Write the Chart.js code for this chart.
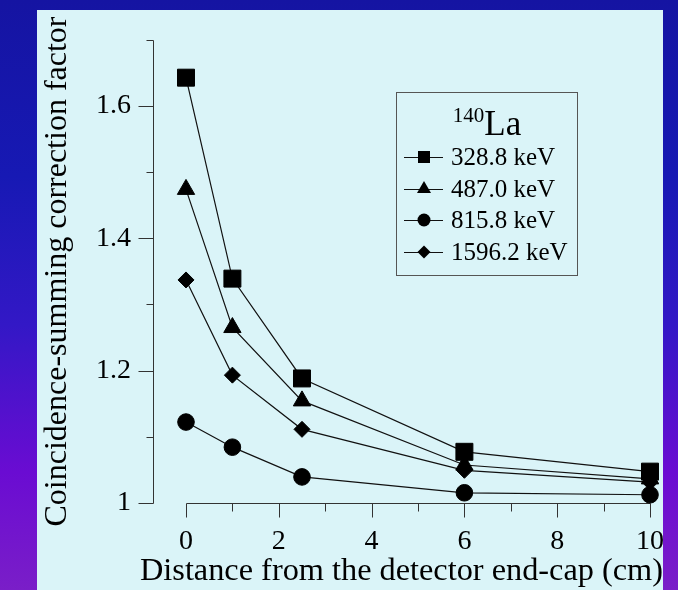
<!DOCTYPE html>
<html><head><meta charset="utf-8">
<script src="https://cdn.jsdelivr.net/npm/chart.js@4.4.1/dist/chart.umd.min.js"></script>
<style>
html,body{margin:0;padding:0;width:678px;height:590px;overflow:hidden;}
body{position:relative;background:linear-gradient(to bottom,#1514a2 0%,#1719b4 30%,#3318c6 55%,#6a0cd2 80%,#7a1ec8 100%);font-family:'Liberation Serif','Times New Roman',serif;}
#panel{position:absolute;left:37px;top:10px;width:626px;height:580px;background:#daf4f8;}
#c{position:absolute;left:0;top:0;}
#legend{position:absolute;left:396px;top:92px;width:182px;height:184px;border:1px solid #555;box-sizing:border-box;color:#000;}
#legend .lt{position:absolute;left:0;top:11px;width:100%;height:40px;line-height:40px;text-align:center;white-space:nowrap;font-size:35px;}
#legend .lt .sup{position:relative;top:-13px;font-size:21px;}
#legend .row{position:absolute;left:0;height:30px;line-height:30px;width:100%;font-size:25px;white-space:nowrap;}
#legend .row svg{position:absolute;left:7px;top:0;}
#legend .row span{position:absolute;left:54px;top:0;}
</style></head>
<body>
<div id="panel"></div>
<canvas id="c" width="678" height="590"></canvas>
<div id="legend"></div>
<script>
// ---- data ----
const distances = [0, 1, 2.5, 6, 10];
const seriesLabels = ['328.8 keV', '487.0 keV', '815.8 keV', '1596.2 keV'];
const s328 = [1.643, 1.339, 1.188, 1.077, 1.047];
const s487 = [1.474, 1.265, 1.154, 1.057, 1.036];
const s815 = [1.122, 1.084, 1.039, 1.015, 1.012];
const s1596 = [1.337, 1.193, 1.111, 1.049, 1.031];
const xMajorTicks = [0, 2, 4, 6, 8, 10];
const xMinorTicks = [1, 3, 5, 7, 9];
const xTickLabels = ['0', '2', '4', '6', '8', '10'];
const yMajorTicks = [1, 1.2, 1.4, 1.6];
const yMinorTicks = [1.1, 1.3, 1.5, 1.7];
const yTickLabels = ['1', '1.2', '1.4', '1.6'];
const legendTitleSup = '140';
const legendTitleMain = 'La';
const xTitle = 'Distance from the detector end-cap (cm)';
const yTitle = 'Coincidence-summing correction factor';

// ---- layout targets (where the axis ends sit on the page) ----
const X_FIRST_PX = 186, X_LAST_PX = 650;      // pixel of x = 0 and x = 10
const Y_FIRST_PX = 502.7, Y_LAST_PX = 40;     // pixel of y = 1.0 and y = 1.7
const Y_AXIS_PX = 153;                        // where the detached y axis line sits

const FONT = "'Liberation Serif','Times New Roman',serif";
const styles = [
  {pointStyle: 'rect', radius: 12},
  {pointStyle: 'triangle', radius: 10},
  {pointStyle: 'circle', radius: 8.3},
  {pointStyle: 'rectRot', radius: 8}
];
const seriesValues = [s328, s487, s815, s1596];

const datasets = seriesValues.map((vals, i) => ({
  label: seriesLabels[i],
  data: distances.map((d, j) => ({x: d, y: vals[j]})),
  showLine: true,
  borderColor: '#111',
  borderWidth: 1.2,
  pointStyle: styles[i].pointStyle,
  pointRadius: styles[i].radius,
  pointHoverRadius: styles[i].radius,
  pointBackgroundColor: '#000',
  pointBorderColor: '#000',
  pointBorderWidth: 1,
  tension: 0,
  fill: false,
  clip: false
}));

const crisp = v => Math.round(v) + 0.5;

const axesPlugin = {
  id: 'axesPlugin',
  beforeDatasetsDraw(chart) {
    const {ctx, scales: {x, y}} = chart;
    ctx.save();
    ctx.strokeStyle = '#333';
    ctx.lineWidth = 1;
    const x0 = crisp(Y_AXIS_PX);
    const yb = crisp(y.getPixelForValue(yMajorTicks[0]));
    const yt = crisp(y.getPixelForValue(yMinorTicks[yMinorTicks.length - 1]));
    ctx.beginPath();
    ctx.moveTo(x0, yt); ctx.lineTo(x0, yb);
    yMajorTicks.forEach(v => { const p = crisp(y.getPixelForValue(v)); ctx.moveTo(x0 - 15, p); ctx.lineTo(x0, p); });
    yMinorTicks.forEach(v => { const p = crisp(y.getPixelForValue(v)); ctx.moveTo(x0 - 7, p); ctx.lineTo(x0, p); });
    const xl = crisp(x.getPixelForValue(xMajorTicks[0]));
    const xr = crisp(x.getPixelForValue(xMajorTicks[xMajorTicks.length - 1]));
    ctx.moveTo(xl, yb); ctx.lineTo(xr, yb);
    xMajorTicks.forEach(v => { const p = crisp(x.getPixelForValue(v)); ctx.moveTo(p, yb); ctx.lineTo(p, yb + 14); });
    xMinorTicks.forEach(v => { const p = crisp(x.getPixelForValue(v)); ctx.moveTo(p, yb); ctx.lineTo(p, yb + 8); });
    ctx.stroke();
    ctx.restore();
  }
};

const chart = new Chart(document.getElementById('c'), {
  type: 'scatter',
  data: {datasets},
  options: {
    responsive: false,
    animation: false,
    devicePixelRatio: 1,
    layout: {padding: {left: 0, right: 15, top: 14, bottom: 0}},
    plugins: {legend: {display: false}, tooltip: {enabled: false}},
    scales: {
      x: {
        type: 'linear', min: -0.7, max: 10,
        afterBuildTicks: s => { s.ticks = xMajorTicks.map(v => ({value: v})); },
        afterFit: s => { s.height = 61; s.paddingLeft = 0; s.paddingRight = 0; },
        ticks: {autoSkip: false, maxRotation: 0, padding: -3.8, color: '#000',
          font: {family: FONT, size: 28},
          callback: (v, i) => xTickLabels[i]},
        grid: {display: true, drawOnChartArea: false, drawTicks: false},
        border: {display: false},
        title: {display: true, text: xTitle, color: '#000',
          font: {family: FONT, size: 32.5, lineHeight: 1}, padding: {top: 0, bottom: 2.5}}
      },
      y: {
        type: 'linear', min: 1, max: 1.75,
        afterBuildTicks: s => { s.ticks = yMajorTicks.map(v => ({value: v})); },
        afterFit: s => { s.width = 140; s.paddingTop = 0; s.paddingBottom = 0; },
        ticks: {autoSkip: false, padding: 9, color: '#000',
          font: {family: FONT, size: 28},
          callback: (v, i) => yTickLabels[i]},
        grid: {display: true, drawOnChartArea: false, drawTicks: false},
        border: {display: false},
        title: {display: true, text: yTitle, color: '#000',
          font: {family: FONT, size: 32, lineHeight: 1}, padding: {top: 42, bottom: 0}}
      }
    }
  },
  plugins: [axesPlugin]
});

// set axis ranges so that the axis ends land where the reference draws them
(function calibrate() {
  const a = chart.chartArea;
  const pxY = (Y_FIRST_PX - Y_LAST_PX) / (yMinorTicks[yMinorTicks.length - 1] - yMajorTicks[0]);
  const yMin = yMajorTicks[0] - (a.bottom - Y_FIRST_PX) / pxY;
  const yMax = yMin + (a.bottom - a.top) / pxY;
  const pxX = (X_LAST_PX - X_FIRST_PX) / (xMajorTicks[xMajorTicks.length - 1] - xMajorTicks[0]);
  const xMin = xMajorTicks[0] - (X_FIRST_PX - a.left) / pxX;
  const xMax = xMin + (a.right - a.left) / pxX;
  chart.options.scales.y.min = yMin;
  chart.options.scales.y.max = yMax;
  chart.options.scales.x.min = xMin;
  chart.options.scales.x.max = xMax;
  chart.update();
})();

// ---- legend (HTML, built from datasets) ----
const legendEl = document.getElementById('legend');
const lt = document.createElement('div');
lt.className = 'lt';
const sup = document.createElement('span'); sup.className = 'sup'; sup.textContent = legendTitleSup;
const main = document.createElement('span'); main.textContent = legendTitleMain;
lt.appendChild(sup); lt.appendChild(main);
legendEl.appendChild(lt);
const rowTops = [65, 96.5, 128, 160];
const shapes = {
  rect: '<rect x="14" y="9" width="12" height="12" fill="#000"/>',
  triangle: '<polygon points="20,7 27,19 13,19" fill="#000"/>',
  circle: '<circle cx="20" cy="15" r="6.5" fill="#000"/>',
  rectRot: '<polygon points="20,8.5 26.5,15 20,21.5 13.5,15" fill="#000"/>'
};
chart.data.datasets.forEach((ds, i) => {
  const row = document.createElement('div');
  row.className = 'row';
  row.style.top = (rowTops[i] - 15 - 1) + 'px';
  row.innerHTML = '<svg width="40" height="30" viewBox="0 0 40 30"><line x1="0" y1="15.5" x2="39" y2="15.5" stroke="#111" stroke-width="1"/>' + shapes[ds.pointStyle] + '</svg>';
  const t = document.createElement('span');
  t.textContent = ds.label;
  row.appendChild(t);
  legendEl.appendChild(row);
});
</script>
</body></html>
